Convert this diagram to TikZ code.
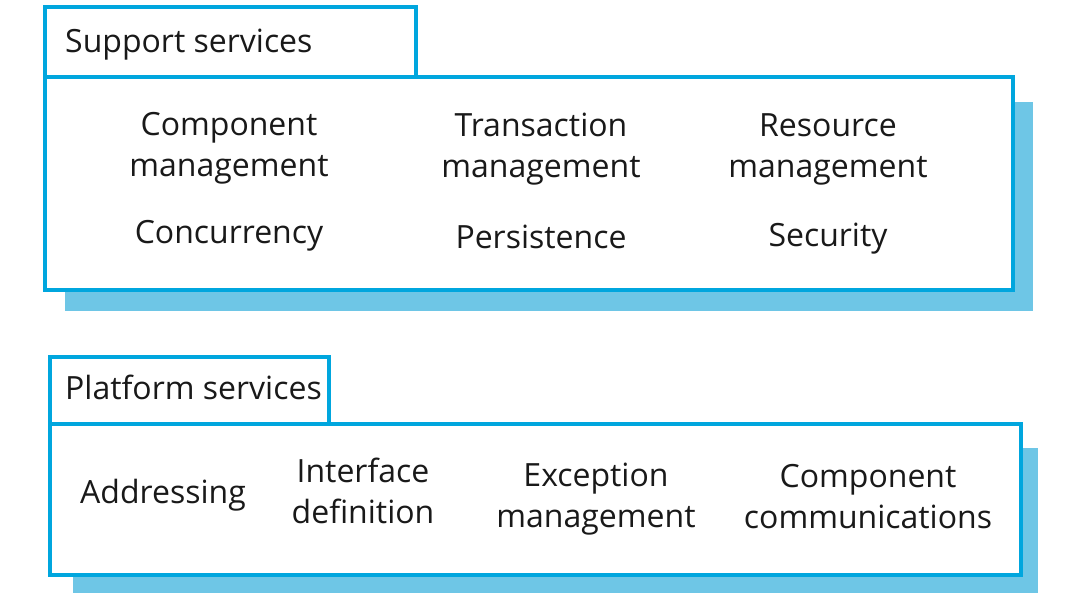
\documentclass[tikz,border=0pt]{standalone}
\usepackage{fontspec}
\setmainfont{Open Sans}
\definecolor{bordercol}{HTML}{00A6DE}
\definecolor{shadowcol}{HTML}{6EC6E6}
\begin{document}
\begin{tikzpicture}[x=1pt,y=-1pt,
  frame/.style={draw=bordercol,line width=4pt,fill=white},
  shade/.style={fill=shadowcol,draw=none},
  lbl/.style={font=\fontsize{32}{41}\selectfont,text=black!90,align=center,inner sep=0pt},
  title/.style={lbl,anchor=base west}]
\useasboundingbox (0,0) rectangle (1079,593);
% support services
\fill[shade] (65,102) rectangle (1033,311);
\draw[frame] (45,77) rectangle (1013,290);
\draw[frame] (45,7) rectangle (416,77);
\node[title] (sup) at (65,53) {Support services};
\node[lbl] (cm) at (229,148) {Component\\management};
\node[lbl] (tm) at (541,149) {Transaction\\management};
\node[lbl] (rm) at (828,149) {Resource\\management};
\node[lbl] (cc) at (229,236) {Concurrency};
\node[lbl] (pe) at (541,237) {Persistence};
\node[lbl] (se) at (828,239) {Security};
% platform services
\fill[shade] (73,448) rectangle (1038,593);
\draw[frame] (50,424) rectangle (1021,575);
\draw[frame] (50,357) rectangle (329,424);
\node[title] (pla) at (65,400) {Platform services};
\node[lbl] (ad) at (163,495) {Addressing};
\node[lbl] (id) at (363,491) {Interface\\definition};
\node[lbl] (em) at (596,499) {Exception\\management};
\node[lbl] (co) at (868,497) {Component\\communications};
\end{tikzpicture}
\end{document}
